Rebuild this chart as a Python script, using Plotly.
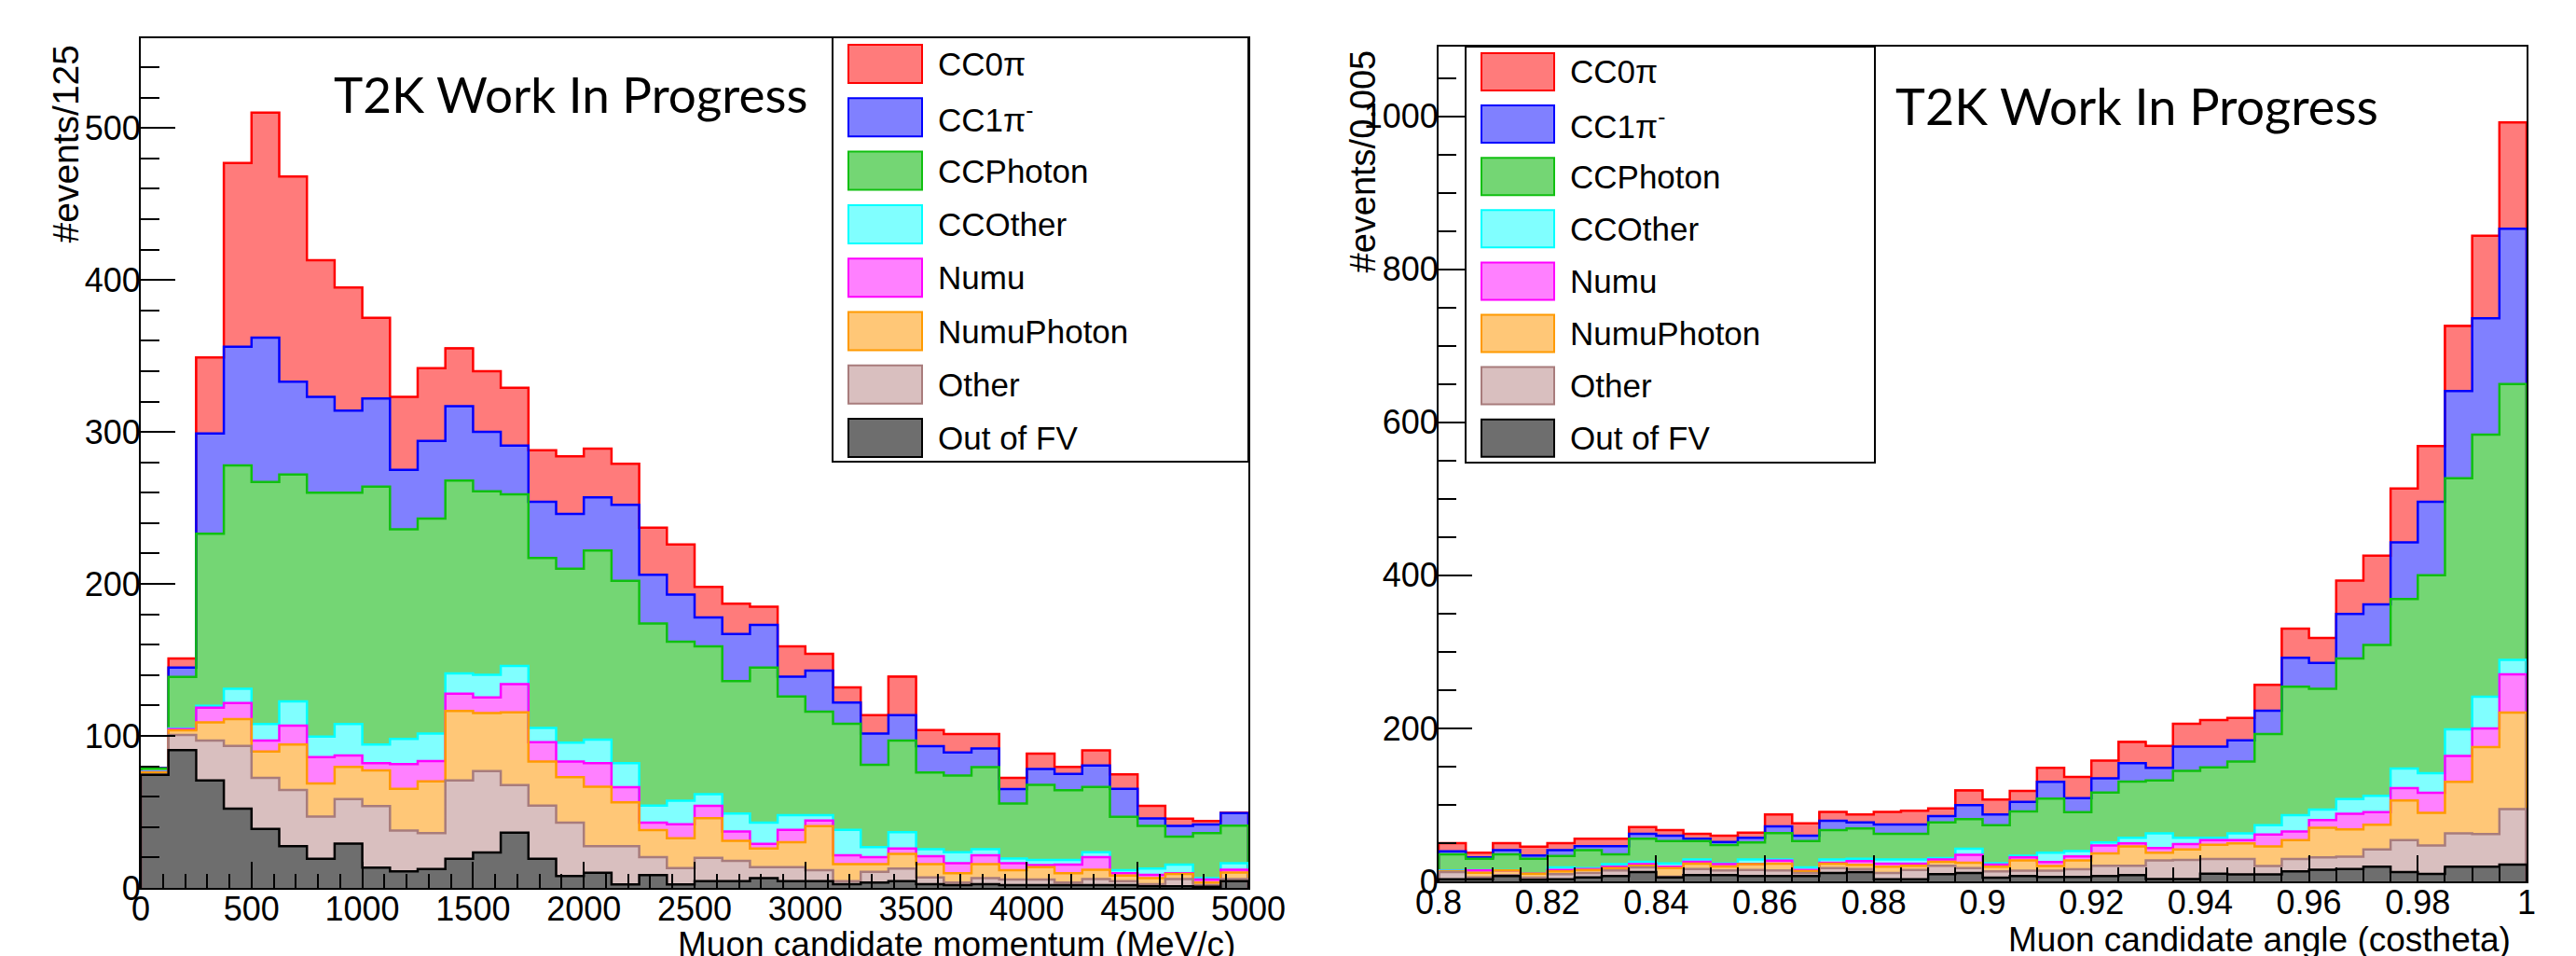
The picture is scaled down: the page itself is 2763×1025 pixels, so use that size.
import numpy as np
import plotly.graph_objects as go

W, H = 2763, 1025

# ---------------- data ----------------
# stacking order (bottom -> top)
component_names = ["Out of FV", "Other", "NumuPhoton", "Numu", "CCOther", "CCPhoton", "CC1pi", "CC0pi"]
legend_labels = ["CC0π", "CC1π<sup>-</sup>", "CCPhoton", "CCOther", "Numu", "NumuPhoton", "Other", "Out of FV"]

# Left: muon candidate momentum, 40 bins of 125 MeV/c from 0 to 5000
mom_min, mom_max, mom_nbins = 0, 5000, 40
mom_oofv = [74.4, 90.7, 70.7, 52.2, 38.8, 27.4, 19.2, 29.1, 13.4, 10.9, 12.4, 19.2, 23.3, 36.3, 19.2, 7.8, 9.9, 2.3, 8.5, 2.3,
            4.5, 4.5, 6.5, 4.5, 4.5, 2.4, 3.5, 4.5, 2.4, 1.8, 2.4, 1.8, 1.8, 1.8, 1.8, 1.8, 1.0, 1.0, 0.8, 4.5]
mom_other = [0.2, 9.9, 26.2, 41.2, 33.6, 37.1, 27.8, 29.3, 40.4, 26.8, 23.7, 51.5, 53.6, 31.3, 35.0, 35.1, 17.5, 25.1, 11.7, 10.7,
             15.3, 13.3, 7.2, 9.2, 7.1, 2.1, 7.1, 8.2, 4.5, 1.7, 4.1, 3.7, 3.7, 1.7, 4.1, 2.7, 1.4, 4.9, 1.0, 1.4]
mom_numuphoton = [1.4, 3.1, 12.0, 17.6, 17.3, 29.9, 21.7, 21.2, 23.5, 27.5, 34.0, 45.8, 38.1, 47.9, 28.9, 29.9, 39.2, 28.9, 17.9, 19.6,
                  26.1, 13.2, 12.2, 16.3, 29.0, 11.2, 5.1, 9.7, 8.8, 6.1, 9.2, 6.1, 8.2, 6.1, 6.1, 3.7, 4.1, 3.3, 1.7, 4.3]
mom_numu = [0.2, 0.8, 9.7, 10.6, 7.2, 12.4, 17.3, 7.6, 4.7, 16.2, 13.4, 11.3, 10.4, 18.5, 12.8, 10.3, 15.4, 9.9, 4.8, 9.3,
            8.1, 6.1, 3.1, 8.2, 3.7, 5.7, 4.5, 3.5, 5.1, 6.7, 5.7, 4.7, 1.3, 5.7, 8.2, 1.4, 2.1, 0.4, 2.0, 1.8]
mom_ccother = [0.3, 0.5, 1.2, 9.4, 10.9, 15.9, 13.6, 20.6, 12.4, 16.7, 18.1, 13.4, 14.8, 12.0, 9.3, 12.4, 15.5, 15.8, 11.3, 15.4,
               7.6, 11.9, 13.9, 9.6, 3.5, 16.8, 6.7, 10.8, 4.7, 7.2, 4.1, 3.1, 3.4, 3.1, 3.3, 2.0, 4.1, 5.7, 1.0, 4.3]
mom_ccphoton = [2.1, 33.8, 113.2, 147.0, 159.2, 149.3, 160.4, 152.2, 169.6, 137.9, 141.4, 126.8, 120.8, 113.0, 111.8, 114.5, 124.5, 120.0, 119.8, 104.7,
                97.4, 87.0, 102.1, 78.2, 68.2, 69.8, 54.1, 60.3, 50.5, 50.5, 54.0, 36.1, 49.4, 45.8, 43.0, 35.2, 28.1, 18.5, 29.5, 24.7]
mom_cc1pi = [0.2, 6.2, 66.0, 78.0, 95.0, 61.0, 63.0, 54.0, 58.0, 39.0, 51.0, 49.0, 39.0, 32.0, 37.0, 36.0, 35.0, 50.0, 32.0, 31.0,
             19.0, 31.0, 28.0, 13.0, 27.0, 14.0, 20.5, 16.6, 17.2, 15.2, 12.2, 9.6, 10.5, 10.8, 14.1, 18.4, 4.9, 7.0, 5.8, 8.3]
mom_cc0pi = [0.2, 6.0, 50.0, 121.0, 148.0, 135.0, 90.0, 81.0, 53.0, 48.0, 48.0, 38.0, 40.0, 38.0, 34.0, 38.0, 32.0, 27.0, 31.0, 33.0,
             20.0, 20.0, 12.0, 20.0, 11.0, 10.0, 12.1, 25.4, 10.6, 12.0, 9.5, 7.3, 10.0, 4.6, 9.9, 9.5, 8.3, 4.7, 2.2, 0.1]

# Right: muon candidate angle (cos theta), 40 bins of 0.005 from 0.8 to 1
ang_min, ang_max, ang_nbins = 0.8, 1.0, 40
ang_oofv = [2.8, 2.8, 6.9, 2.0, 2.8, 5.3, 6.9, 12.2, 5.3, 8.1, 8.1, 6.9, 6.9, 6.9, 11.0, 12.2, 2.8, 2.8, 9.3, 11.0,
            4.9, 6.9, 5.7, 5.7, 6.9, 8.2, 2.9, 2.9, 10.2, 9.0, 9.0, 13.0, 15.1, 16.3, 19.2, 12.2, 9.8, 19.2, 19.2, 22.0]
ang_other = [9.4, 2.5, 1.2, 2.9, 6.5, 5.7, 7.3, 6.1, 0.8, 8.2, 6.1, 8.1, 7.3, 4.1, 6.5, 4.1, 8.2, 12.2, 11.0, 6.5,
             8.1, 7.0, 8.2, 10.2, 13.5, 12.2, 24.4, 25.2, 19.2, 20.4, 11.0, 16.4, 16.3, 15.9, 22.4, 41.6, 37.1, 43.6, 42.8, 72.5]
ang_numuphoton = [0.8, 6.1, 6.1, 5.3, 3.7, 4.0, 3.3, 2.0, 11.4, 6.9, 5.3, 7.4, 9.0, 2.4, 5.7, 5.2, 8.1, 5.3, 5.3, 6.9,
                  6.2, 13.4, 6.1, 11.4, 16.3, 25.3, 10.2, 13.5, 18.3, 20.4, 25.7, 24.4, 38.7, 35.9, 32.6, 51.8, 42.8, 67.3, 113.4, 126.1]
ang_numu = [0.4, 2.8, 0.0, 0.0, 2.0, 1.3, 1.6, 2.1, 1.6, 2.4, 2.9, 0.6, 4.0, 1.6, 1.2, 4.9, 4.1, 2.9, 2.9, 10.2,
            2.8, 4.1, 5.3, 5.3, 10.2, 4.1, 6.1, 7.3, 6.1, 4.0, 15.5, 11.5, 10.2, 20.4, 16.3, 16.3, 26.1, 33.9, 24.4, 50.1]
ang_ccother = [0.8, 0.4, 0.4, 0.2, 3.3, 1.2, 3.3, 3.2, 4.5, 2.9, 1.2, 5.5, 1.3, 3.3, 4.1, 3.3, 5.3, 5.3, 2.0, 8.1,
               1.8, 2.0, 12.2, 7.0, 4.1, 7.3, 19.2, 8.2, 3.3, 9.0, 12.2, 21.2, 13.6, 19.2, 21.2, 25.7, 25.7, 34.6, 41.6, 18.8]
ang_ccphoton = [21.2, 15.1, 20.8, 19.3, 15.0, 23.2, 13.0, 30.1, 29.2, 24.3, 24.0, 22.3, 34.5, 34.5, 38.6, 39.4, 33.7, 33.7, 46.7, 38.6,
                49.6, 58.0, 70.6, 50.9, 65.2, 73.4, 69.3, 87.3, 91.8, 93.8, 119.1, 168.0, 157.7, 183.5, 197.3, 221.4, 258.5, 328.4, 342.6, 360.5]
ang_cc1pi = [4.0, 1.6, 5.3, 4.0, 7.4, 5.2, 10.5, 6.5, 7.0, 2.9, 4.0, 6.1, 9.0, 7.0, 12.2, 8.1, 12.2, 12.2, 8.2, 18.3,
             14.0, 12.6, 22.0, 18.4, 18.4, 24.1, 16.4, 31.8, 27.3, 27.7, 30.5, 37.9, 33.9, 58.3, 53.0, 74.0, 96.0, 114.0, 152.0, 203.0]
ang_cc0pi = [10.6, 6.1, 9.3, 11.8, 9.3, 9.8, 9.8, 8.9, 7.3, 6.5, 8.2, 6.9, 15.4, 16.2, 11.4, 10.2, 16.3, 17.9, 10.1, 19.4,
             19.6, 14.3, 18.4, 27.7, 23.2, 27.7, 28.5, 29.8, 34.7, 29.4, 33.9, 37.9, 32.6, 43.6, 63.8, 70.5, 73.0, 85.0, 108.0, 139.0]

mom_x_ticks = [0, 500, 1000, 1500, 2000, 2500, 3000, 3500, 4000, 4500, 5000]
ang_x_ticks = [0.8, 0.82, 0.84, 0.86, 0.88, 0.9, 0.92, 0.94, 0.96, 0.98, 1.0]
ang_x_ticktext = ["0.8", "0.82", "0.84", "0.86", "0.88", "0.9", "0.92", "0.94", "0.96", "0.98", "1"]

# ---------------- style ----------------
line_colors = ["#000000", "#a87c7c", "#ff9a00", "#ff00ff", "#00ffff", "#10c010", "#0000ff", "#ff0000"]
fill_colors = ["#6e6e6e", "#d9bfbf", "#ffc777", "#ff80ff", "#80ffff", "#74d674", "#8080ff", "#ff7b7b"]
FONT = "Liberation Sans, Arial, Helvetica, sans-serif"
TFONT = 36

fig = go.Figure()


def add_panel(xa, ya, xmin, xmax, nbins, comps):
    edges = np.linspace(xmin, xmax, nbins + 1)
    centers = 0.5 * (edges[:-1] + edges[1:])
    width = (xmax - xmin) / nbins
    for vals, fc in zip(comps, fill_colors):
        fig.add_trace(go.Bar(x=centers, y=vals, width=width, xaxis=xa, yaxis=ya,
                             marker=dict(color=fc, line=dict(color=fc, width=1)),
                             showlegend=False, hoverinfo="skip"))
    cum = np.cumsum(np.array(comps, dtype=float), axis=0)
    for i in range(len(comps) - 1, -1, -1):
        yv = cum[i]
        xs = [edges[0]] + list(edges[:-1]) + [edges[-1], edges[-1]]
        ys = [0.0] + list(yv) + [yv[-1], 0.0]
        fig.add_trace(go.Scatter(x=xs, y=ys, mode="lines", xaxis=xa, yaxis=ya,
                                 line=dict(color=line_colors[i], width=2.5, shape="hv"),
                                 showlegend=False, hoverinfo="skip"))


add_panel("x", "y", mom_min, mom_max, mom_nbins,
          [mom_oofv, mom_other, mom_numuphoton, mom_numu, mom_ccother, mom_ccphoton, mom_cc1pi, mom_cc0pi])
add_panel("x2", "y2", ang_min, ang_max, ang_nbins,
          [ang_oofv, ang_other, ang_numuphoton, ang_numu, ang_ccother, ang_ccphoton, ang_cc1pi, ang_cc0pi])


def px(x):
    return x / W


def py(y):
    return 1 - y / H


axis_common = dict(showline=True, linecolor="black", linewidth=2, mirror=True, showgrid=False,
                   zeroline=False, ticks="inside", tickcolor="black", tickwidth=2, automargin=False,
                   tickfont=dict(family=FONT, size=TFONT, color="black"))

fig.update_layout(
    width=W, height=H, margin=dict(l=0, r=0, t=0, b=0, pad=0, autoexpand=False),
    paper_bgcolor="white", plot_bgcolor="white", barmode="stack", bargap=0,
    showlegend=False,
    xaxis=dict(domain=[px(151), px(1339)], range=[mom_min, mom_max], anchor="y",
               tickvals=mom_x_ticks, ticklen=28, ticklabelstandoff=-10,
               minor=dict(dtick=100, tick0=0, ticklen=15, tickwidth=2, tickcolor="black", ticks="inside"),
               **axis_common),
    yaxis=dict(domain=[py(952), py(41)], range=[0, 559], anchor="x",
               tick0=0, dtick=100, ticklen=37, ticklabelstandoff=-9,
               minor=dict(dtick=20, tick0=0, ticklen=20, tickwidth=2, tickcolor="black", ticks="inside"),
               **axis_common),
    xaxis2=dict(domain=[px(1543), px(2710)], range=[ang_min, ang_max], anchor="y2",
                tickvals=ang_x_ticks, ticktext=ang_x_ticktext, ticklen=28, ticklabelstandoff=-10,
                minor=dict(dtick=0.005, tick0=0.8, ticklen=15, tickwidth=2, tickcolor="black", ticks="inside"),
                **axis_common),
    yaxis2=dict(domain=[py(945), py(50)], range=[0, 1091], anchor="x2",
                tick0=0, dtick=200, ticklen=36, ticklabelstandoff=-9,
                minor=dict(dtick=50, tick0=0, ticklen=19, tickwidth=2, tickcolor="black", ticks="inside"),
                **axis_common),
)

shapes = []
annotations = []


def add_legend(x0, y0, x1, y1, sw_x0, sw_x1, first_top, sw_h, pitch, text_x):
    shapes.append(dict(type="rect", xref="paper", yref="paper", x0=px(x0), x1=px(x1), y0=py(y1), y1=py(y0),
                       line=dict(color="black", width=2), fillcolor="white", layer="above"))
    # legend lists the top-most component first
    for k in range(8):
        ci = 7 - k
        top = first_top + pitch * k
        shapes.append(dict(type="rect", xref="paper", yref="paper", x0=px(sw_x0), x1=px(sw_x1),
                           y0=py(top + sw_h), y1=py(top), line=dict(color=line_colors[ci], width=2),
                           fillcolor=fill_colors[ci], layer="above"))
        annotations.append(dict(xref="paper", yref="paper", x=px(text_x), y=py(top + sw_h / 2),
                                xanchor="left", yanchor="middle", showarrow=False, text=legend_labels[k],
                                font=dict(family=FONT, size=35, color="black")))


add_legend(893, 40, 1339, 495, 910, 989, 48, 41, 57.3, 1004)
add_legend(1572, 50, 2011, 496, 1589, 1667, 57, 40, 56.1, 1682)

# watermark text
annotations.append(dict(xref="paper", yref="paper", x=px(612), y=py(101), xanchor="center", yanchor="middle",
                        showarrow=False, text="T2K Work In Progress", font=dict(family="Lato, Carlito, sans-serif", size=53, color="black")))
annotations.append(dict(xref="paper", yref="paper", x=px(2292), y=py(114), xanchor="center", yanchor="middle",
                        showarrow=False, text="T2K Work In Progress", font=dict(family="Lato, Carlito, sans-serif", size=54, color="black")))

# axis titles
annotations.append(dict(xref="paper", yref="paper", x=px(1327), y=py(990), xanchor="right", yanchor="top",
                        showarrow=False, text="Muon candidate momentum (MeV/c)", font=dict(family=FONT, size=37, color="black")))
annotations.append(dict(xref="paper", yref="paper", x=px(2695), y=py(985), xanchor="right", yanchor="top",
                        showarrow=False, text="Muon candidate angle (costheta)", font=dict(family=FONT, size=37, color="black")))
annotations.append(dict(xref="paper", yref="paper", x=px(70), y=py(46), xanchor="center", yanchor="top",
                        textangle=-90, showarrow=False, text="#events/125", font=dict(family=FONT, size=39, color="black")))
annotations.append(dict(xref="paper", yref="paper", x=px(1461), y=py(52), xanchor="center", yanchor="top",
                        textangle=-90, showarrow=False, text="#events/0.005", font=dict(family=FONT, size=38, color="black")))

fig.update_layout(shapes=shapes, annotations=annotations)
fig.write_html("out.html", config={"displayModeBar": False},
               post_script="document.body.style.margin='0px';document.documentElement.style.overflow='hidden';document.body.style.overflow='hidden';")
